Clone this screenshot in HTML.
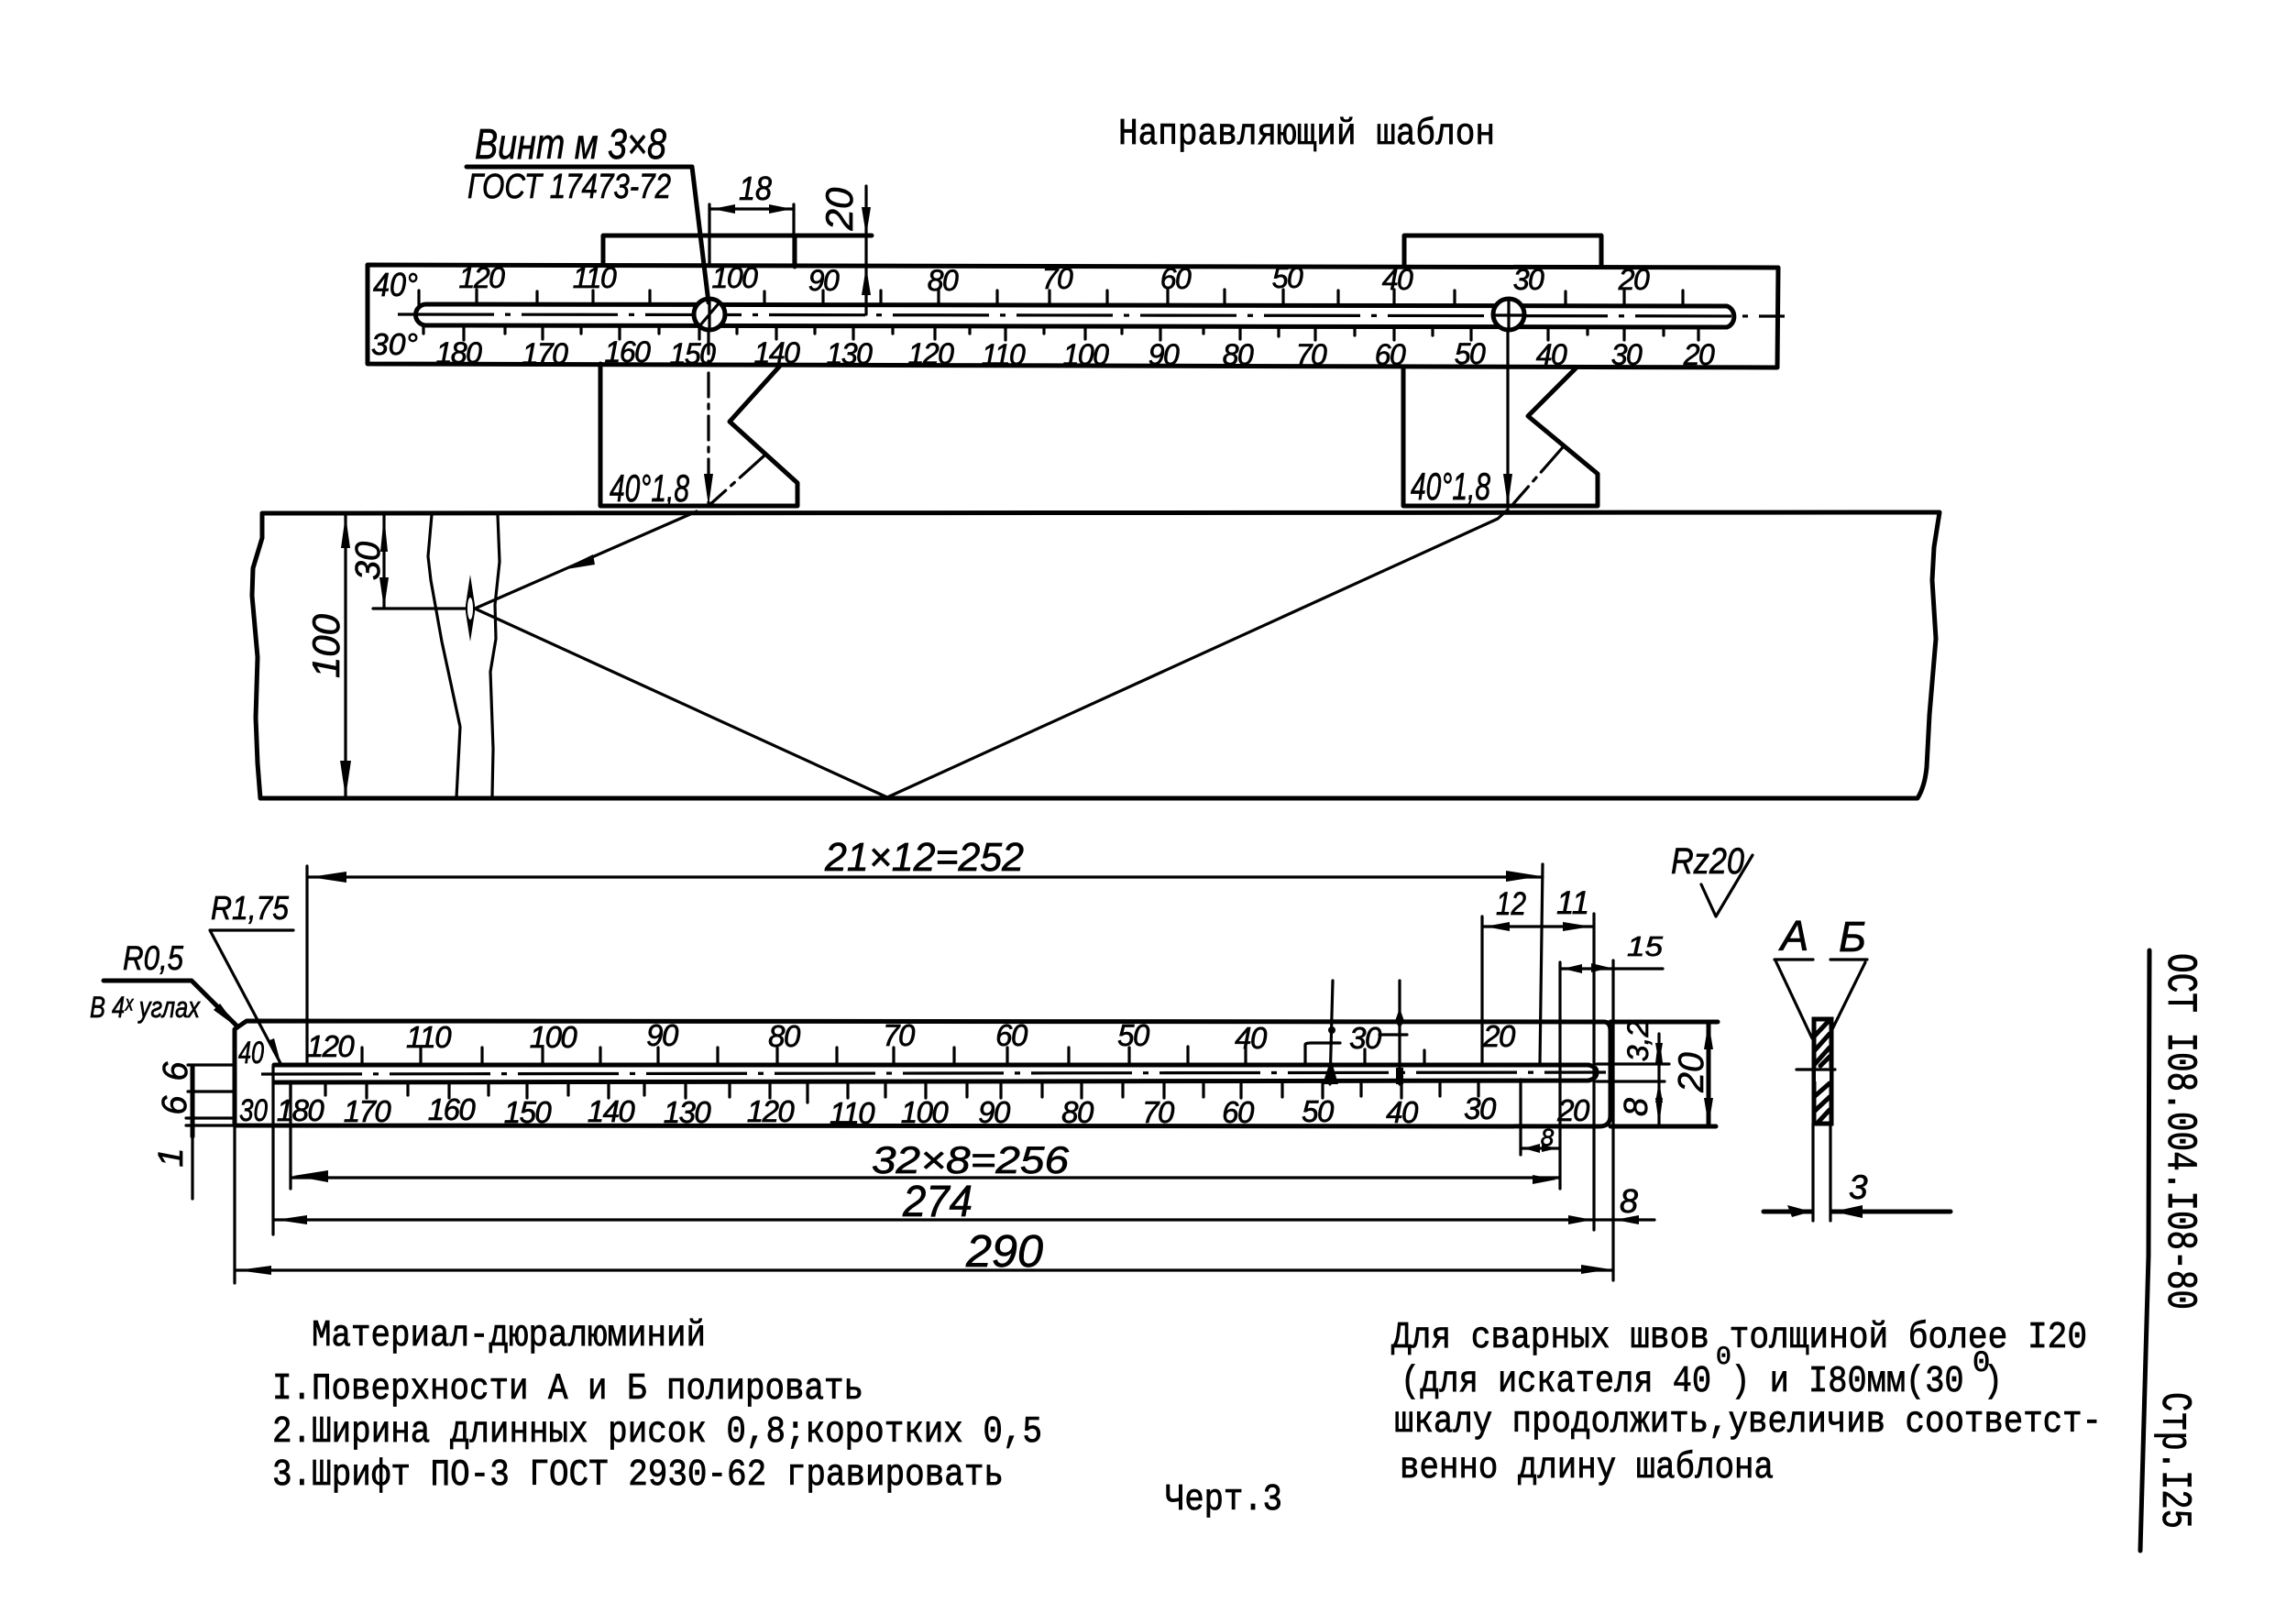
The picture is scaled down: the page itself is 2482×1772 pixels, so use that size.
<!DOCTYPE html>
<html lang="ru">
<head>
<meta charset="utf-8">
<title>Направляющий шаблон</title>
<style>
html,body{margin:0;padding:0;background:#fff}
svg{display:block}
.h{font-family:"Liberation Sans",sans-serif;font-style:italic;fill:#000;stroke:#000;stroke-width:.7}
.m{text-anchor:middle}
.s{letter-spacing:-1.5px}
.t{font-family:"Liberation Mono",monospace;fill:#000;stroke:#000;stroke-width:.8;font-size:41px}
.k{fill:none;stroke:#000;stroke-width:5;stroke-linejoin:round;stroke-linecap:round}
.n{fill:none;stroke:#000;stroke-width:3.2;stroke-linecap:round;stroke-linejoin:round}
.d{fill:none;stroke:#000;stroke-width:3.2}
polygon{fill:#000}
</style>
</head>
<body>
<svg xmlns="http://www.w3.org/2000/svg" width="2482" height="1772" viewBox="0 0 2482 1772">
<rect width="2482" height="1772" fill="#fff"/>

<!-- Title -->
<text class="t" x="1220" y="157" textLength="411" lengthAdjust="spacingAndGlyphs">Направляющий шаблон</text>

<!-- Top template outline -->
<path class="k" d="M401 289L1940 292L1939 401L401 397Z"/>
<path class="k" d="M658 289V257H951M867 257V291M1532 291V257H1747V291"/>
<!-- Slot -->
<path class="k" d="M465 332L1884 334A11 12 0 0 1 1884 357L465 355A11 11 0 0 1 465 332Z"/>
<path class="d" stroke-dasharray="105 12 6 12" d="M434 343L1947 345"/>
<!-- Upper ticks -->
<path class="n" d="M457 332V317M520 332V316M586 332V318M647 332V317M709 332V317M834 332V318M898 332V317M961 332V317M1024 332V316M1088 332V317M1145 332V317M1208 332V317M1274 333V316M1336 333V316M1400 333V316M1460 333V317M1521 333V316M1587 333V317M1708 334V318M1772 334V317M1836 334V317"/>
<!-- Lower ticks -->
<path class="n" d="M462 356V364M506 356V371M551 356V364M592 356V370M634 356V364M676 356V370M719 356V364M763 356V370M804 356V364M847 356V370M889 356V364M931 356V370M974 356V364M1020 356V370M1058 356V364M1097 356V371M1139 356V364M1184 356V370M1224 356V364M1266 356V371M1313 356V364M1353 356V370M1395 356V367M1435 356V371M1478 356V366M1521 356V371M1563 356V366M1605 356V371M1689 357V371M1732 357V365M1772 357V371M1815 357V366M1853 357V371"/>
<!-- Screws -->
<circle cx="774" cy="343" r="17" fill="#fff" stroke="#000" stroke-width="5"/>
<path class="n" d="M763 356L785 330M774 326V360"/>
<circle cx="1646" cy="343" r="17" fill="#fff" stroke="#000" stroke-width="5"/>
<path class="n" d="M1630 344H1663M1646 326V360"/>

<!-- Top scale labels -->
<g class="h m s" font-size="32">
<text x="525" y="314">120</text><text x="648" y="314">110</text><text x="801" y="314">100</text>
<text x="898" y="317">90</text><text x="1028" y="317">80</text><text x="1153" y="315">70</text>
<text x="1282" y="315">60</text><text x="1404" y="314">50</text><text x="1524" y="316">40</text>
<text x="1667" y="316">30</text><text x="1782" y="316">20</text>
<text x="500" y="396">180</text><text x="594" y="397">170</text><text x="684" y="395">160</text>
<text x="755" y="397">150</text><text x="847" y="396">140</text><text x="926" y="397">130</text>
<text x="1015" y="397">120</text><text x="1094" y="398">110</text><text x="1184" y="398">100</text>
<text x="1269" y="398">90</text><text x="1350" y="398">80</text><text x="1430" y="398">70</text>
<text x="1516" y="398">60</text><text x="1603" y="397">50</text><text x="1692" y="398">40</text>
<text x="1774" y="398">30</text><text x="1853" y="398">20</text>
</g>
<text class="h" x="407" y="323" font-size="36" textLength="49" lengthAdjust="spacingAndGlyphs">40°</text>
<text class="h" x="405" y="387" font-size="33" textLength="51" lengthAdjust="spacingAndGlyphs">30°</text>

<!-- Blocks below plate -->
<path class="k" d="M655 397V552H870V527L796 460L852 398"/>
<path class="k" d="M1531 402V552H1743V517L1667 454L1719 402"/>
<path class="n" stroke-dasharray="36 8 5 8" d="M834 497L773 552"/>
<path class="n" stroke-dasharray="36 8 5 8" d="M1705 488L1649 552"/>
<path class="n" stroke-dasharray="26 8 5 8" d="M773 360V552"/>
<path class="n" d="M1645 360V552"/>
<polygon points="773,552 768,517 778,517"/>
<polygon points="1645,552 1640,517 1650,517"/>
<text class="h" x="665" y="547" font-size="42" textLength="87" lengthAdjust="spacingAndGlyphs">40°1,8</text>
<text class="h" x="1539" y="545" font-size="42" textLength="87" lengthAdjust="spacingAndGlyphs">40°1,8</text>

<!-- Screw leader -->
<text class="h" x="518" y="173" font-size="46" textLength="209" lengthAdjust="spacingAndGlyphs">Винт м 3×8</text>
<path class="k" d="M509 182H755L773 330"/>
<text class="h" x="510" y="216" font-size="38" textLength="222" lengthAdjust="spacingAndGlyphs">ГОСТ 17473-72</text>

<!-- 18 dim -->
<path class="n" d="M774 223V289M866 223V289M774 228H866"/>
<polygon points="777,228 802,223 802,233"/>
<polygon points="864,228 839,223 839,233"/>
<text class="h" x="806" y="218" font-size="36" textLength="36" lengthAdjust="spacingAndGlyphs">18</text>
<!-- 20 dim -->
<path class="n" d="M945 203V343"/>
<polygon points="945,257 940,226 950,226"/>
<polygon points="945,291 940,322 950,322"/>
<text class="h m" transform="rotate(-90 915 228)" x="915" y="243" font-size="42">20</text>

<!-- Weld body -->
<path class="k" d="M284 871L2092 871Q2100 858 2102 837L2105 780L2112 697L2108 633L2110 597L2116 559L286 560L286 587L276 620L275 650L281 717L279 783L281 833L284 871"/>
<path class="n" d="M471 562L467 607L470 633L482 700L490 737L502 793L498 870"/>
<path class="n" d="M543 562L545 613L540 660L541 697L535 733L538 817L537 868"/>
<!-- 100 -->
<path class="n" d="M377 560V871"/>
<polygon points="377,562 372,598 382,598"/>
<polygon points="377,870 371,830 383,830"/>
<text class="h m" transform="rotate(-90 355 705)" x="355" y="720" font-size="42">100</text>
<!-- 30 -->
<path class="n" d="M419 560V664M407 664H508"/>
<polygon points="419,562 415,602 423,602"/>
<polygon points="419,664 414,630 424,630"/>
<text class="h m" transform="rotate(-90 401 612)" x="401" y="625" font-size="38">30</text>
<!-- Flaw lens -->
<polygon points="513,627 518,660 518,668 513,700 508,668 508,660"/>
<ellipse cx="513" cy="664" rx="3" ry="12" fill="#fff"/>
<!-- Rays -->
<path class="n" stroke-width="4" d="M518 664L760 558"/>
<polygon points="612,622 647,605 649,616"/>
<path class="n" d="M518 664L968 870L1634 566L1645 556"/>

<!-- Lower ruler -->
<path class="k" d="M256 1123L269 1114L1750 1115Q1757 1115 1757 1125V1217Q1757 1229 1745 1229L256 1228Z"/>
<path class="k" d="M1757 1115H1874M1757 1229H1872"/>
<path class="k" d="M299 1162H1733Q1742 1164 1742 1170Q1742 1177 1733 1179L299 1181"/>
<path class="n" d="M1742 1161H1821M1742 1180H1816"/>
<path class="d" stroke-dasharray="110 12 6 12" d="M285 1172L1752 1170"/>
<!-- Upper ticks -->
<path class="n" d="M395 1162V1143M459 1162V1143M526 1162V1143M592 1162V1143M655 1162V1143M718 1162V1143M783 1162V1143M848 1162V1143M913 1162V1143M975 1162V1143M1041 1162V1143M1099 1162V1143M1166 1162V1143M1232 1162V1143M1296 1162V1142M1359 1162V1142M1489 1162V1145M1554 1162V1146"/>
<path class="n" stroke-width="4" d="M1424 1162V1140Q1424 1138 1430 1138H1462M1505 1129H1535"/>
<!-- Lower ticks -->
<path class="n" d="M317 1181V1198M355 1181V1195M400 1181V1198M445 1181V1195M490 1181V1198M533 1181V1195M575 1181V1198M620 1181V1195M664 1181V1198M703 1181V1195M748 1181V1198M796 1181V1197M840 1181V1198M881 1181V1203M925 1181V1198M966 1181V1197M1010 1181V1198M1055 1181V1197M1092 1181V1198M1137 1181V1197M1180 1181V1198M1225 1181V1197M1270 1181V1198M1313 1181V1197M1354 1181V1198M1399 1181V1197M1443 1181V1198M1485 1180V1196M1529 1180V1198M1571 1180V1196M1613 1180V1196"/>

<g class="h m s" font-size="33">
<text x="360" y="1153">120</text><text x="467" y="1143">110</text><text x="603" y="1143">100</text>
<text x="722" y="1141">90</text><text x="855" y="1142">80</text><text x="980" y="1141">70</text>
<text x="1103" y="1141">60</text><text x="1236" y="1141">50</text><text x="1364" y="1144">40</text>
<text x="1489" y="1144">30</text><text x="1635" y="1142">20</text>
<text x="327" y="1223">180</text><text x="400" y="1224">170</text><text x="492" y="1222">160</text>
<text x="575" y="1225">150</text><text x="666" y="1224">140</text><text x="749" y="1225">130</text>
<text x="840" y="1224">120</text><text x="929" y="1226">110</text><text x="1008" y="1225">100</text>
<text x="1084" y="1225">90</text><text x="1175" y="1225">80</text><text x="1263" y="1225">70</text>
<text x="1350" y="1225">60</text><text x="1437" y="1224">50</text><text x="1529" y="1225">40</text>
<text x="1614" y="1221">30</text><text x="1716" y="1223">20</text>
</g>
<text class="h" x="260" y="1160" font-size="34" textLength="28" lengthAdjust="spacingAndGlyphs">40</text>
<text class="h" x="261" y="1223" font-size="34" textLength="31" lengthAdjust="spacingAndGlyphs">30</text>

<!-- Verticals on scale -->
<path class="n" d="M1454 1070L1451 1183"/>
<polygon points="1451,1183 1443,1183 1452,1155 1460,1183"/>
<circle cx="1453" cy="1124" r="4"/>
<path class="n" stroke-width="4" d="M1527 1070V1183"/>
<polygon points="1527,1100 1522,1114 1527,1122 1532,1114"/>
<rect x="1523" y="1165" width="8" height="18"/>

<!-- Leaders R -->
<text class="h" x="230" y="1003" font-size="36" textLength="85" lengthAdjust="spacingAndGlyphs">R1,75</text>
<path class="n" stroke-width="4" d="M320 1015H229L307 1162"/>
<polygon points="307,1163 292,1136 299,1133"/>
<text class="h" x="134" y="1058" font-size="37" textLength="66" lengthAdjust="spacingAndGlyphs">R0,5</text>
<path class="k" stroke-width="4" d="M113 1070H209L259 1120"/>
<polygon points="259,1121 233,1102 240,1095"/>
<text class="h" x="98" y="1110" font-size="32" textLength="120" lengthAdjust="spacingAndGlyphs">В 4ˣ углах</text>

<!-- Left 6 6 1 -->
<path class="n" d="M210 1163V1308M205 1162H256M205 1191H256M203 1220H256M203 1228H256"/>
<path class="k" stroke-width="4" d="M210 1163V1240"/>
<text class="h m" transform="rotate(-90 191 1169)" x="191" y="1182" font-size="38">6</text>
<text class="h m" transform="rotate(-90 190 1206)" x="190" y="1219" font-size="38">6</text>
<text class="h m" transform="rotate(-90 186 1263)" x="186" y="1276" font-size="38">1</text>

<!-- Extension and dim lines -->
<path class="n" d="M335 945V1162M1683 943L1680 1161M335 957H1683"/>
<polygon points="338,957 378,951 378,963"/>
<polygon points="1681,956 1643,950 1643,962"/>
<text class="h" x="900" y="950" font-size="44" textLength="217" lengthAdjust="spacingAndGlyphs">21×12=252</text>

<path class="n" d="M1617 1000V1161M1739 997V1342M1617 1011H1739"/>
<polygon points="1620,1011 1647,1006 1647,1016"/>
<polygon points="1736,1011 1705,1006 1705,1016"/>
<text class="h" x="1632" y="998" font-size="35" textLength="33" lengthAdjust="spacingAndGlyphs">12</text>
<text class="h" x="1698" y="997" font-size="35" textLength="36" lengthAdjust="spacingAndGlyphs">11</text>

<path class="n" stroke-width="4" d="M1702 1050V1297M1760 1048V1397M1702 1057H1814"/>
<polygon points="1705,1057 1726,1052 1726,1062"/>
<polygon points="1757,1056 1736,1051 1736,1061"/>
<text class="h" x="1775" y="1043" font-size="31" textLength="39" lengthAdjust="spacingAndGlyphs">15</text>

<!-- Right dims 3,2 / 8 / 20 -->
<path class="n" d="M1810 1128V1228"/>
<polygon points="1810,1128 1806,1160 1814,1160"/>
<polygon points="1810,1161 1806,1138 1814,1138"/>
<polygon points="1810,1180 1806,1203 1814,1203"/>
<polygon points="1810,1228 1806,1198 1814,1198"/>
<text class="h m" transform="rotate(-90 1786 1136)" x="1786" y="1148" font-size="32">3,2</text>
<text class="h m" transform="rotate(-90 1783 1208)" x="1783" y="1222" font-size="36">8</text>
<path class="k" stroke-width="4" d="M1864 1115V1229"/>
<polygon points="1864,1115 1859,1145 1869,1145"/>
<polygon points="1864,1229 1859,1198 1869,1198"/>
<text class="h m" transform="rotate(-90 1844 1170)" x="1844" y="1184" font-size="39">20</text>

<!-- Small 8 -->
<path class="n" d="M1659 1178V1260M1659 1253H1701"/>
<polygon points="1662,1253 1680,1248 1680,1258"/>
<polygon points="1699,1253 1682,1249 1682,1257"/>
<text class="h m" x="1688" y="1250" font-size="26">8</text>

<!-- 256 -->
<path class="n" d="M317 1180V1297M317 1285H1701"/>
<polygon points="320,1283 358,1277 358,1290"/>
<polygon points="1698,1287 1672,1282 1672,1292"/>
<text class="h" x="951" y="1280" font-size="42" textLength="215" lengthAdjust="spacingAndGlyphs">32×8=256</text>

<!-- 274 -->
<path class="n" d="M298 1163V1347M298 1331H1805"/>
<polygon points="301,1331 335,1326 335,1336"/>
<polygon points="1737,1331 1711,1326 1711,1336"/>
<polygon points="1762,1331 1788,1326 1788,1336"/>
<text class="h" x="985" y="1327" font-size="48" textLength="76" lengthAdjust="spacingAndGlyphs">274</text>
<text class="h m" x="1777" y="1323" font-size="36">8</text>

<!-- 290 -->
<path class="n" d="M256 1123V1400M256 1386H1759"/>
<polygon points="259,1386 296,1381 296,1391"/>
<polygon points="1757,1385 1725,1380 1725,1390"/>
<text class="h" x="1054" y="1382" font-size="49" textLength="84" lengthAdjust="spacingAndGlyphs">290</text>

<!-- Roughness -->
<text class="h" x="1823" y="953" font-size="40" textLength="80" lengthAdjust="spacingAndGlyphs">Rz20</text>
<path class="n" d="M1856 965L1872 1000L1912 933"/>

<!-- Section -->
<text class="h m" x="1958" y="1037" font-size="46">А</text>
<text class="h m" x="2021" y="1038" font-size="46">Б</text>
<path class="n" stroke-width="4" d="M1936 1047H1978M1997 1047H2037M1937 1048L1977 1133M2035 1050L1999 1123"/>
<rect x="1979" y="1112" width="19" height="114" fill="#fff" stroke="#000" stroke-width="5"/>
<rect x="1981" y="1165" width="15" height="15" fill="#fff"/>
<path class="k" stroke-width="3.5" d="M1980 1130L1996 1113M1980 1146L1996 1128M1980 1161L1996 1143M1986 1163L1996 1153M1980 1196L1996 1182M1980 1212L1996 1197M1984 1224L1996 1211"/>
<path class="n" d="M1960 1167H2002M1978 1226V1332M1997 1226V1332"/>
<path class="k" stroke-width="4" d="M1924 1322H1977M1998 1322H2128"/>
<polygon points="1976,1322 1950,1315 1955,1328"/>
<polygon points="2000,1322 2032,1315 2032,1329"/>
<text class="h" x="2017" y="1308" font-size="37">3</text>

<!-- Notes -->
<text class="t" x="340" y="1468" textLength="430" lengthAdjust="spacingAndGlyphs">Материал-дюралюминий</text>
<text class="t" x="297" y="1526" textLength="645" lengthAdjust="spacingAndGlyphs">I.Поверхности А и Б полировать</text>
<text class="t" x="297" y="1573" textLength="840" lengthAdjust="spacingAndGlyphs">2.Ширина длинных рисок 0,8;коротких 0,5</text>
<text class="t" x="297" y="1620" textLength="798" lengthAdjust="spacingAndGlyphs">3.Шрифт ПО-3 ГОСТ 2930-62 гравировать</text>
<text class="t" x="1271" y="1647" textLength="128" lengthAdjust="spacingAndGlyphs">Черт.3</text>

<text class="t" x="1518" y="1470" textLength="759" lengthAdjust="spacingAndGlyphs">Для сварных швов толщиной более I20</text>
<text class="t" x="1528" y="1518" textLength="657" lengthAdjust="spacingAndGlyphs">(для искателя 40 ) и I80мм(30 )</text>
<text class="t" x="1521" y="1562" textLength="772" lengthAdjust="spacingAndGlyphs">шкалу продолжить,увеличив соответст-</text>
<text class="t" x="1527" y="1612" textLength="408" lengthAdjust="spacingAndGlyphs">венно длину шаблона</text>
<text class="t" x="1872" y="1488" style="font-size:28px">0</text>
<text class="t" x="2152" y="1496" style="font-size:32px">0</text>

<!-- Right margin -->
<path class="k" d="M2345 1037L2344 1370L2335 1692"/>
<text class="t" transform="rotate(90 2366 1040)" x="2366" y="1040" style="font-size:46px" textLength="389" lengthAdjust="spacingAndGlyphs">ОСТ I08.004.I08-80</text>
<text class="t" transform="rotate(90 2360 1519)" x="2360" y="1519" style="font-size:46px" textLength="149" lengthAdjust="spacingAndGlyphs">Стр.I25</text>
</svg>
</body>
</html>
